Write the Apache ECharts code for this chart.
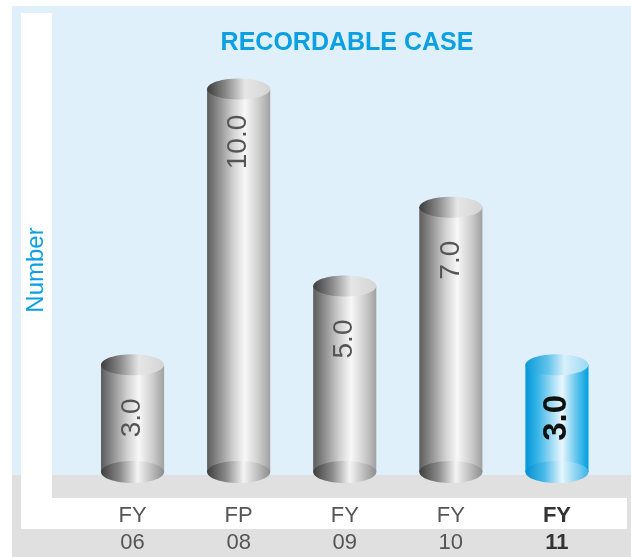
<!DOCTYPE html>
<html>
<head>
<meta charset="utf-8">
<title>Recordable case</title>
<script src="https://cdn.jsdelivr.net/npm/echarts@6/dist/echarts.min.js"></script>
<style>
  html, body { margin: 0; padding: 0; background: #fff; }
  #chart { width: 631px; height: 557px; }
</style>
</head>
<body>
<div id="chart"></div>
<script>
const categories = ['FY\n06', 'FP\n08', 'FY\n09', 'FY\n10', 'FY\n11']
const values = [3.0, 10.0, 5.0, 7.0, 3.0]
const current = 4 // last year is the highlighted one

const FONT = '"Liberation Sans", Arial, Helvetica, sans-serif'
const BLUE = '#0aa0e2'

function grad(stops) {
  return new echarts.graphic.LinearGradient(0, 0, 1, 0,
    stops.map(([offset, color]) => ({ offset, color })))
}

const GRAY = {
  body: [[0, '#5c5c5c'], [0.18, '#8e8e8e'], [0.42, '#d2d2d2'], [0.6, '#f8f8f8'], [0.82, '#cdcdcd'], [1, '#a0a0a0']],
  top: [[0, '#3c3c3c'], [0.3, '#8a8a8a'], [0.6, '#e6e6e6'], [1, '#d4d4d4']],
  bottom: [[0, '#3e3e3e'], [0.3, '#8a8a8a'], [0.58, '#f4f4f4'], [1, '#8c8c8c']],
}
const CYAN = {
  body: [[0, '#0096d8'], [0.2, '#3ab6e8'], [0.58, '#eaf7fd'], [0.82, '#5cc3ec'], [1, '#00a0e0']],
  top: [[0, '#0a9ad8'], [0.35, '#5fc2ea'], [0.62, '#d8f0fb'], [1, '#9ad8f3']],
  bottom: [[0, '#0090d0'], [0.3, '#4ab9e8'], [0.58, '#e6f6fd'], [1, '#3ab3e6']],
}

function renderItem(params, api) {
  const i = api.value(0)
  const v = api.value(1)
  const top = api.coord([i, v])
  const zero = api.coord([i, 0])
  const w = api.size([1, 0])[0] * 0.595
  const rx = w / 2
  const cx = top[0]
  const baseY = zero[1] - 11
  const hi = params.dataIndex === current
  const pal = hi ? CYAN : GRAY
  return {
    type: 'group',
    children: [
      { type: 'rect', shape: { x: cx - rx, y: top[1], width: w, height: baseY - top[1] },
        style: { fill: grad(pal.body) } },
      { type: 'ellipse', shape: { cx, cy: baseY, rx, ry: 11 },
        style: { fill: grad(pal.bottom) } },
      { type: 'ellipse', shape: { cx, cy: top[1], rx, ry: 10.5 },
        style: { fill: grad(pal.top) } },
      { type: 'text', x: cx, y: top[1] + 53, rotation: Math.PI / 2,
        style: {
          text: v.toFixed(1), align: 'center', verticalAlign: 'middle',
          font: (hi ? 'bold 33px ' : '28px ') + FONT,
          fill: hi ? '#111' : '#555'
        } }
    ]
  }
}

const chart = echarts.init(document.getElementById('chart'))
chart.setOption({
  animation: false,
  title: {
    text: 'RECORDABLE CASE', left: 342, top: 26, textAlign: 'center',
    textStyle: { color: BLUE, fontSize: 25, fontWeight: 'bold', fontFamily: FONT }
  },
  graphic: [
    { type: 'rect', z: -10, shape: { x: 12, y: 6, width: 619, height: 469 }, style: { fill: '#e0f0fb' } },
    { type: 'rect', z: -10, shape: { x: 12, y: 475, width: 619, height: 82 }, style: { fill: '#e0e0e0' } },
    { type: 'rect', z: -9, shape: { x: 21, y: 13, width: 31, height: 516 }, style: { fill: '#fff' } },
    { type: 'rect', z: -9, shape: { x: 21, y: 498, width: 606, height: 31 }, style: { fill: '#fff' } },
  ],
  grid: { left: 79.5, right: 21, top: 89, bottom: 74 },
  xAxis: {
    type: 'category', data: categories,
    axisLine: { show: false }, axisTick: { show: false },
    axisLabel: {
      margin: 19, interval: 0,
      formatter: (val, idx) => {
        const tag = idx === current ? 'b' : 'a'
        return val.split('\n').map(s => `{${tag}|${s}}`).join('\n')
      },
      rich: {
        a: { fontSize: 22, lineHeight: 27, color: '#555', fontFamily: FONT },
        b: { fontSize: 22, lineHeight: 27, color: '#333', fontWeight: 'bold', fontFamily: FONT },
      }
    }
  },
  yAxis: {
    type: 'value', min: 0, max: 10,
    name: 'Number', nameLocation: 'middle', nameRotate: 90, nameGap: 31,
    nameTextStyle: { color: BLUE, fontSize: 24, fontFamily: FONT, padding: [0, 0, 0, 32] },
    axisLine: { show: false }, axisTick: { show: false },
    axisLabel: { show: false }, splitLine: { show: false }
  },
  series: [{
    type: 'custom',
    renderItem,
    data: values.map((v, i) => [i, v]),
    encode: { x: 0, y: 1 }
  }]
})
</script>
</body>
</html>
